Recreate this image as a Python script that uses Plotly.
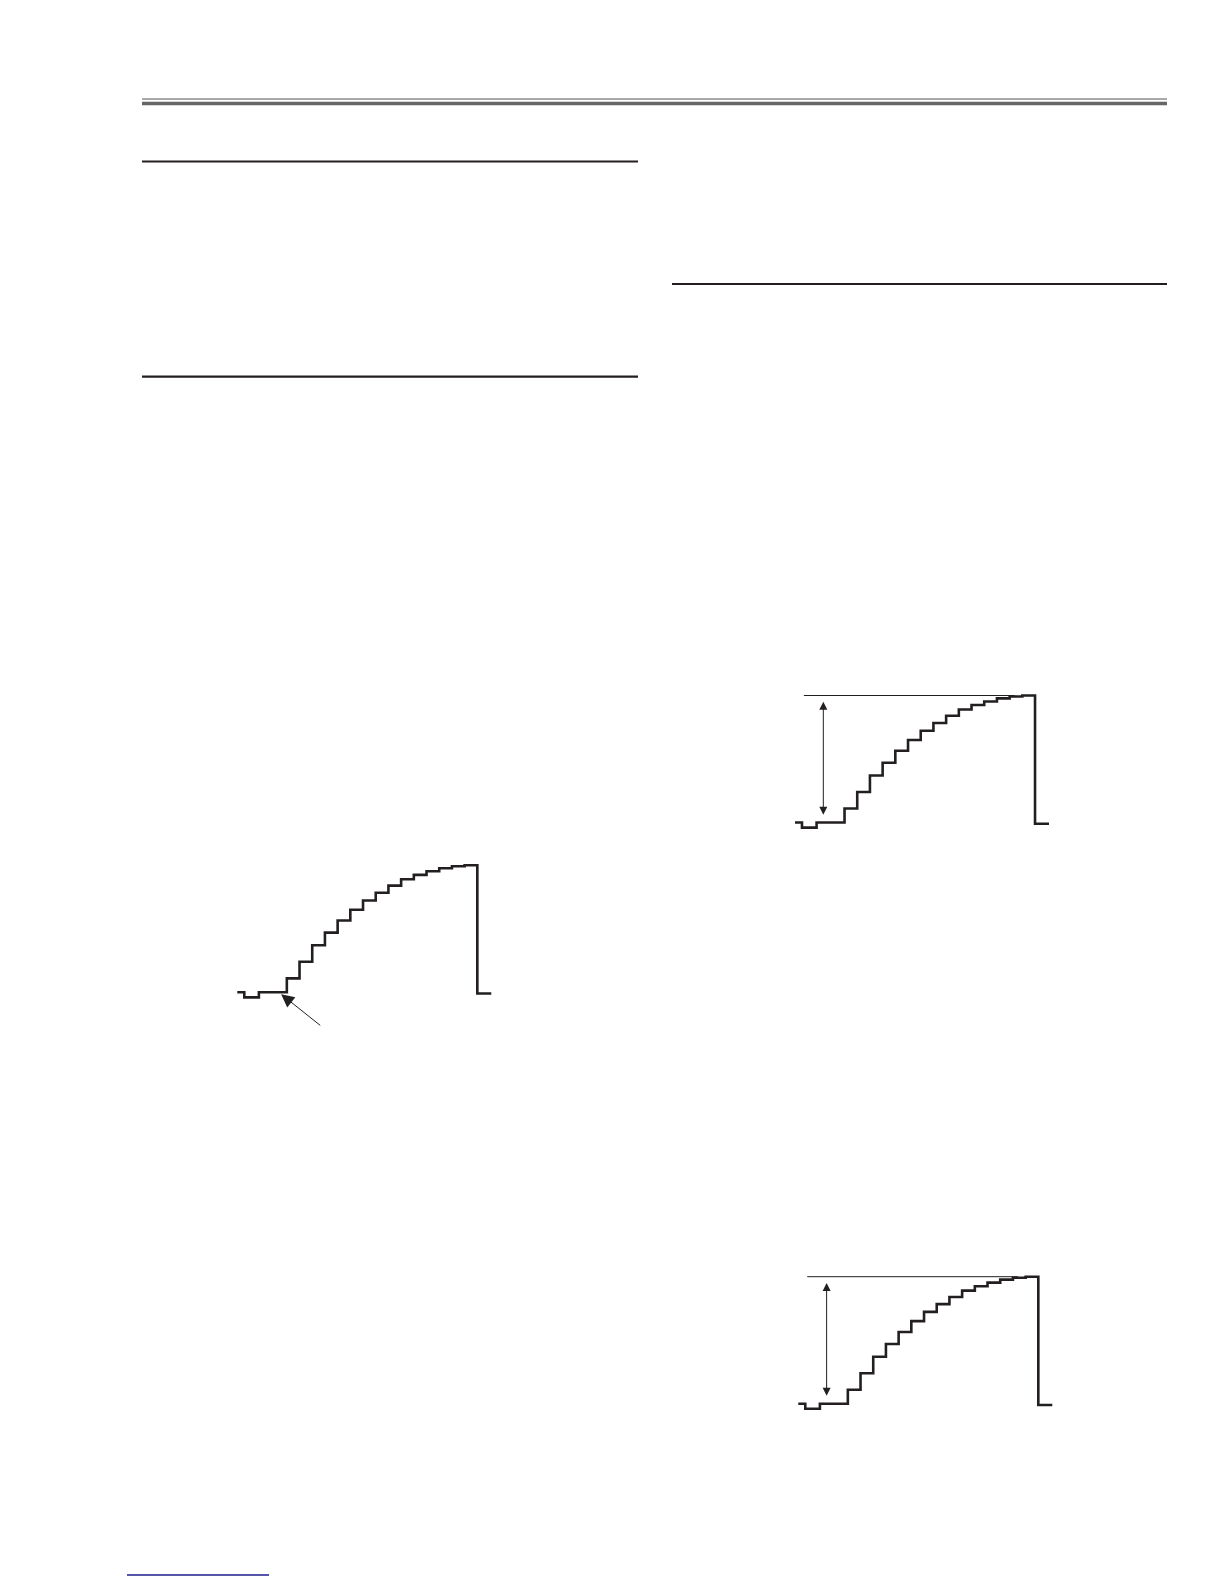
import plotly.graph_objects as go

# staircase test signal (same on all three scope views)
# time in step periods, level in % of the top step
step_time = [0, 0.55, 1.7, 3.9, 4.9, 5.9, 6.9, 7.9, 8.9, 9.9, 10.9, 11.9,
             12.9, 13.9, 14.9, 15.9, 16.9, 17.9, 18.9, 20.0]
step_level = [0, -4, 0, 11, 24, 37, 47, 56.5, 65, 72.3, 78.4, 84, 89,
              92.5, 95.3, 97.7, 99.2, 100, -1, -1]

# thin reference line at the top step (views 2 and 3)
ref_time = [0.7, 17.3]
ref_level = [100, 100]

# amplitude arrow (views 2 and 3)
amp_time = 2.23
amp_low = 5
amp_high = 95

# pointer arrow on view 1: tip and tail
pointer_tip = [3.45, -1.5]
pointer_tail = [6.65, -27]

# page geometry (pixels)
W, H = 1224, 1584
sx, sy = 12.7, 1.27   # px per time unit / per level unit
t_rng = [-1.5, 21.5]
l_rng = [-32, 112]
# origin of each view on the page: (x of t=0, y of level 0, has ref line)
views = [(237.3, 992.3, False), (795.0, 822.5, True), (798.3, 1403.7, True)]

ink = "#231f20"

fig = go.Figure()
layout_axes = {}
annots = []

for i, (ox, oy, has_ref) in enumerate(views):
    n = "" if i == 0 else str(i + 1)
    xa, ya = "x" + n, "y" + n
    xdom = [(ox + t_rng[0] * sx) / W, (ox + t_rng[1] * sx) / W]
    ydom = [1 - (oy - l_rng[0] * sy) / H, 1 - (oy - l_rng[1] * sy) / H]
    layout_axes["xaxis" + n] = dict(domain=xdom, range=t_rng, visible=False,
                                    anchor=ya, fixedrange=True)
    layout_axes["yaxis" + n] = dict(domain=ydom, range=l_rng, visible=False,
                                    anchor=xa, fixedrange=True)

    if has_ref:
        fig.add_trace(go.Scatter(x=ref_time, y=ref_level, mode="lines",
                                 line=dict(color=ink, width=1),
                                 xaxis=xa, yaxis=ya, hoverinfo="skip"))
        annots.append(dict(x=amp_time, y=amp_high, ax=amp_time, ay=amp_low,
                           xref=xa, yref=ya, axref=xa, ayref=ya, text="",
                           showarrow=True, arrowside="end+start",
                           arrowhead=2, startarrowhead=2, arrowsize=1.6,
                           startarrowsize=1.6, arrowwidth=1, arrowcolor=ink))
    else:
        annots.append(dict(x=pointer_tip[0], y=pointer_tip[1],
                           ax=pointer_tail[0], ay=pointer_tail[1],
                           xref=xa, yref=ya, axref=xa, ayref=ya, text="",
                           showarrow=True, arrowhead=2, arrowsize=2.6,
                           arrowwidth=1, arrowcolor=ink))

    fig.add_trace(go.Scatter(x=step_time, y=step_level, mode="lines",
                             line=dict(color=ink, width=2.6, shape="hv"),
                             xaxis=xa, yaxis=ya, hoverinfo="skip"))

# page rules: (x0, x1, y, width, colour)
rules = [
    (142, 1167, 99, 1, "#555555"),
    (142, 1167, 103.5, 3.5, "#666666"),
    (142, 638, 161.5, 2.2, ink),
    (142, 638, 376.7, 2.2, ink),
    (672, 1167, 284, 2.2, ink),
    (127, 269, 1575, 1.6, "#1c1c8c"),
]
shapes = [dict(type="line", xref="paper", yref="paper",
               x0=a / W, x1=b / W, y0=1 - y / H, y1=1 - y / H,
               line=dict(color=c, width=w))
          for a, b, y, w, c in rules]

fig.update_layout(
    width=W, height=H, autosize=False,
    margin=dict(l=0, r=0, t=0, b=0),
    paper_bgcolor="white", plot_bgcolor="white",
    showlegend=False, shapes=shapes, annotations=annots,
    **layout_axes,
)

fig.write_html("out.html", config={"displayModeBar": False},
               post_script="document.body.style.margin='0';")
